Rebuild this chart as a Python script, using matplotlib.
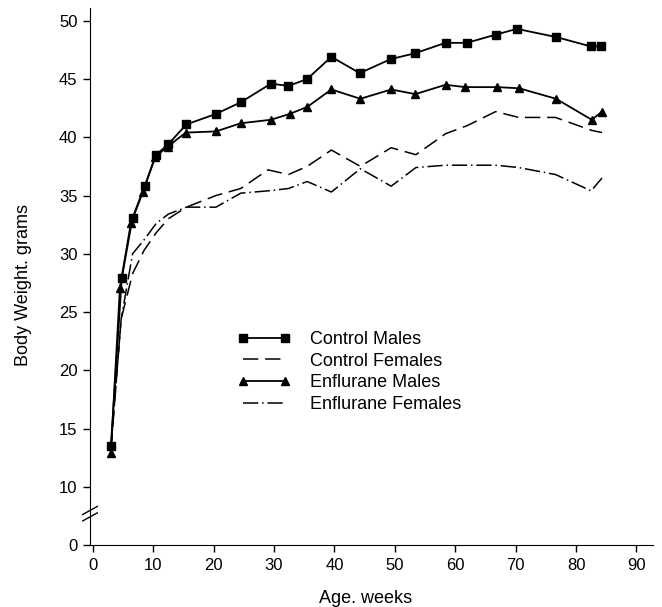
import numpy as np
import matplotlib
matplotlib.use("Agg")
import matplotlib.pyplot as plt

plt.rcParams['font.family'] = ['Liberation Sans', 'DejaVu Sans']

# Gewichte (Lesung aus der Abbildung)
weeks_cm = [3, 4.8, 6.6, 8.6, 10.5, 12.5, 15.5, 20.4, 24.5, 29.5, 32.4, 35.5,
            39.5, 44.2, 49.3, 53.3, 58.4, 61.9, 66.7, 70.2, 76.7, 82.4, 84.2]
control_males = [13.5, 27.9, 33.1, 35.8, 38.5, 39.4, 41.1, 42.0, 43.0, 44.6, 44.4, 45.0,
                 46.9, 45.5, 46.7, 47.2, 48.1, 48.1, 48.8, 49.3, 48.6, 47.8, 47.8]

weeks_em = [3, 4.5, 6.3, 8.3, 10.3, 12.4, 15.4, 20.4, 24.5, 29.5, 32.6, 35.5,
            39.5, 44.3, 49.4, 53.4, 58.4, 61.7, 67.0, 70.6, 76.7, 82.6, 84.3]
enflurane_males = [12.9, 27.1, 32.6, 35.3, 38.3, 39.2, 40.4, 40.5, 41.2, 41.5, 42.0, 42.6,
                   44.1, 43.3, 44.1, 43.7, 44.5, 44.3, 44.3, 44.2, 43.3, 41.5, 42.2]

weeks_f = [3, 4.7, 6.6, 8.5, 10.5, 12.5, 15.5, 20.4, 24.5, 29.0, 32.4, 35.5,
           39.5, 44.3, 49.4, 53.5, 58.4, 62.0, 66.7, 70.5, 76.6, 82.5, 84.3]
control_females = [13.2, 24.4, 28.3, 30.3, 31.8, 33.0, 34.0, 35.0, 35.6, 37.2, 36.8, 37.5,
                   38.9, 37.5, 39.1, 38.5, 40.3, 41.0, 42.2, 41.7, 41.7, 40.6, 40.4]
enflurane_females = [13.2, 24.4, 30.0, 31.2, 32.6, 33.4, 34.0, 34.0, 35.2, 35.4, 35.6, 36.2,
                     35.3, 37.3, 35.8, 37.4, 37.6, 37.6, 37.6, 37.4, 36.8, 35.4, 36.5]

y_ticks = [0, 10, 15, 20, 25, 30, 35, 40, 45, 50]
x_ticks = [0, 10, 20, 30, 40, 50, 60, 70, 80, 90]


# gebrochene Achse: 0-10 gestaucht
def fwd(y):
    y = np.asarray(y, dtype=float)
    return np.where(y >= 10, y - 5, y * 0.5)


def inv(y):
    y = np.asarray(y, dtype=float)
    return np.where(y >= 5, y + 5, y * 2)


fig = plt.figure(figsize=(6.62, 6.07), dpi=100)
ax = fig.add_axes([0.136, 0.102, 0.850, 0.885])
ax.set_yscale('function', functions=(fwd, inv))

ax.plot(weeks_cm, control_males, '-', color='black', lw=1.3, marker='s', ms=6.3,
        label='Control Males')
ax.plot(weeks_f, control_females, color='black', lw=1.1, dashes=(10, 4.5),
        label='Control Females')
ax.plot(weeks_em, enflurane_males, '-', color='black', lw=1.3, marker='^', ms=5.5,
        label='Enflurane Males')
ax.plot(weeks_f, enflurane_females, color='black', lw=1.1, dashes=(10, 2.5, 1, 2.5),
        label='Enflurane Females')

ax.set_xlim(-0.45, 92.7)
ax.set_ylim(0, 51.1)
ax.set_xticks(x_ticks)
ax.set_yticks(y_ticks)
ax.tick_params(direction='out', length=5, width=1, labelsize=12, colors='black', pad=4)
ax.spines['top'].set_visible(False)
ax.spines['right'].set_visible(False)

# Bruchzeichen
for dy in (0, 0.012):
    ax.plot([-0.013, 0.013], [0.045 + dy, 0.06 + dy], transform=ax.transAxes,
            color='black', lw=1.0, clip_on=False)

ax.set_xlabel('Age. weeks', fontsize=13)
ax.set_ylabel('Body Weight. grams', fontsize=13)
ax.xaxis.set_label_coords(0.489, -0.084)
ax.yaxis.set_label_coords(-0.103, 0.484)

ax.legend(loc='upper left', bbox_to_anchor=(0.263, 0.398), frameon=False,
          fontsize=13, handlelength=2.9, handletextpad=1.1, labelspacing=0.25,
          borderpad=0, borderaxespad=0, numpoints=2)

fig.savefig('out.png', dpi=100)
